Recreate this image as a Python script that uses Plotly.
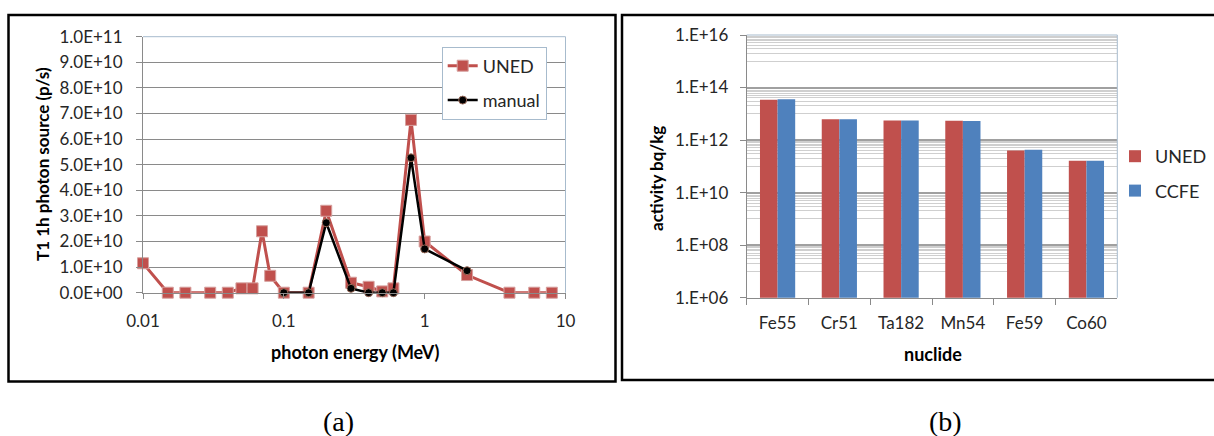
import plotly.graph_objects as go

W, H = 1214, 436

# ---- panel (a): T1 1h photon source spectrum ----
energy_uned = [0.01, 0.015, 0.02, 0.03, 0.04, 0.05, 0.06, 0.07, 0.08, 0.1, 0.15,
               0.2, 0.3, 0.4, 0.5, 0.6, 0.8, 1.0, 2.0, 4.0, 6.0, 8.0]
source_uned = [1.15e10, 0, 0, 0, 0, 1.7e9, 1.7e9, 2.4e10, 6.6e9, 0, 0,
               3.2e10, 3.9e9, 2.3e9, 5e8, 1.7e9, 6.75e10, 2.0e10, 6.9e9, 0, 0, 0]
energy_manual = [0.1, 0.15, 0.2, 0.3, 0.4, 0.5, 0.6, 0.8, 1.0, 2.0]
source_manual = [0, 0, 2.73e10, 1.7e9, 0, 0, 0, 5.27e10, 1.71e10, 8.6e9]

energy_ticks = [0.01, 0.1, 1, 10]
energy_ticktext = ["0.01", "0.1", "1", "10"]
source_ticks = [i * 1e10 for i in range(11)]
source_ticktext = ["0.0E+00", "1.0E+10", "2.0E+10", "3.0E+10", "4.0E+10", "5.0E+10",
                   "6.0E+10", "7.0E+10", "8.0E+10", "9.0E+10", "1.0E+11"]

# ---- panel (b): nuclide activity ----
nuclides = ["Fe55", "Cr51", "Ta182", "Mn54", "Fe59", "Co60"]
activity_uned = [3.4e13, 6.2e12, 5.6e12, 5.4e12, 4.0e11, 1.65e11]
activity_ccfe = [3.6e13, 6.2e12, 5.6e12, 5.3e12, 4.3e11, 1.65e11]

activity_ticks = [1e6, 1e8, 1e10, 1e12, 1e14, 1e16]
activity_ticktext = ["1.E+06", "1.E+08", "1.E+10", "1.E+12", "1.E+14", "1.E+16"]
activity_minor = [m * b for b in activity_ticks[:-1] for m in range(10, 100, 10)]

RED = "#c0504d"
BLUE = "#4f81bd"
FONT = "Lato"
TXT = "#262626"
GRID = "#8a8a8a"
FRAME = "#a7bbcd"


def px(x):
    return x / W


def py(y):
    return 1 - y / H


fig = go.Figure()

fig.add_trace(go.Scatter(
    x=energy_uned, y=source_uned, name="UNED", mode="lines+markers",
    line=dict(color=RED, width=3),
    marker=dict(symbol="square", size=11, color=RED, line=dict(color="#d6a09e", width=1)),
    cliponaxis=False, legendgroup="u", xaxis="x", yaxis="y", legend="legend",
))
fig.add_trace(go.Scatter(
    x=energy_manual, y=source_manual, name="manual", mode="lines+markers",
    line=dict(color="black", width=2.5),
    marker=dict(symbol="circle", size=8, color="black", line=dict(color="#9a6b5a", width=1)),
    cliponaxis=False, legendgroup="m", xaxis="x", yaxis="y", legend="legend",
))

fig.add_trace(go.Bar(
    x=nuclides, y=activity_uned, name="UNED", marker=dict(color=RED, line=dict(width=0)),
    legendgroup="bu", xaxis="x2", yaxis="y2", legend="legend2",
))
fig.add_trace(go.Bar(
    x=nuclides, y=activity_ccfe, name="CCFE", marker=dict(color=BLUE, line=dict(width=0)),
    legendgroup="bc", xaxis="x2", yaxis="y2", legend="legend2",
))

axis_font = dict(family=FONT, size=17, color=TXT)

fig.update_layout(
    width=W, height=H,
    margin=dict(l=0, r=0, t=0, b=0, autoexpand=False),
    paper_bgcolor="white", plot_bgcolor="white",
    font=axis_font,
    barmode="group", bargap=0.43, bargroupgap=0,
    xaxis=dict(
        type="log", range=[-2, 1], domain=[px(143), px(565.5)],
        tickvals=energy_ticks, ticktext=energy_ticktext,
        ticks="outside", ticklen=5, tickcolor=GRID,
        showline=True, linecolor=GRID, linewidth=1,
        showgrid=False, zeroline=False, ticklabelstandoff=8,
        tickfont=axis_font, anchor="y", automargin=False,
    ),
    yaxis=dict(
        range=[0, 1e11], domain=[py(292.7), py(36.7)],
        tickvals=source_ticks, ticktext=source_ticktext,
        ticks="outside", ticklen=6, tickcolor=GRID,
        showline=True, linecolor=GRID, linewidth=1,
        showgrid=True, gridcolor=GRID, gridwidth=1, zeroline=False,
        ticklabelstandoff=10, tickfont=axis_font, anchor="x", automargin=False,
    ),
    xaxis2=dict(
        type="category", domain=[px(746.7), px(1117.3)],
        ticks="outside", ticklen=6, tickcolor=GRID, tickson="boundaries",
        showline=True, linecolor=GRID, linewidth=1,
        showgrid=False, ticklabelstandoff=10, tickfont=axis_font, anchor="y2",
        automargin=False,
    ),
    yaxis2=dict(
        type="log", range=[6, 16], domain=[py(297.7), py(35)],
        tickvals=activity_ticks, ticktext=activity_ticktext,
        ticks="outside", ticklen=6, tickcolor=GRID,
        showline=True, linecolor=GRID, linewidth=1,
        showgrid=True, gridcolor="#a0a0a0", gridwidth=2,
        minor=dict(tickvals=activity_minor, showgrid=True, gridcolor="#cfcfcf",
                   gridwidth=1, ticks=""),
        ticklabelstandoff=8, tickfont=axis_font, anchor="x2", automargin=False,
    ),
    legend=dict(
        x=px(441.7), y=py(46.5), xanchor="left", yanchor="top",
        bordercolor=FRAME, borderwidth=1, bgcolor="white",
        font=dict(family=FONT, size=18, color=TXT),
        tracegroupgap=8, itemwidth=30,
    ),
    legend2=dict(
        x=px(1212), y=py(138), xanchor="right", yanchor="top",
        borderwidth=0, bgcolor="rgba(0,0,0,0)",
        font=dict(family=FONT, size=18, color=TXT),
        tracegroupgap=8, itemwidth=30,
    ),
)

shapes = []
# plot-area frame (top and right edges)
for xr, yr in (("x domain", "y domain"), ("x2 domain", "y2 domain")):
    shapes.append(dict(type="line", xref=xr, yref=yr, x0=0, x1=1, y0=1, y1=1,
                       line=dict(color=FRAME, width=1)))
    shapes.append(dict(type="line", xref=xr, yref=yr, x0=1, x1=1, y0=0, y1=1,
                       line=dict(color=FRAME, width=1)))
# panel borders
shapes.append(dict(type="rect", xref="paper", yref="paper",
                   x0=px(8.5), x1=px(615.5), y0=py(381.5), y1=py(15),
                   line=dict(color="black", width=2.5)))
shapes.append(dict(type="rect", xref="paper", yref="paper",
                   x0=px(622), x1=px(1222), y0=py(380), y1=py(15),
                   line=dict(color="black", width=2.5)))
fig.update_layout(shapes=shapes)

title_font = dict(family=FONT, size=17, color="black", weight="bold")
annotations = [
    dict(text="T1 1h photon source (p/s)", x=px(43), y=py(164), textangle=-90,
         font=title_font),
    dict(text="photon energy (MeV)", x=px(355), y=py(352),
         font=dict(title_font, size=18)),
    dict(text="activity bq/kg", x=px(656), y=py(179), textangle=-90, font=title_font),
    dict(text="nuclide", x=px(933), y=py(354), font=dict(title_font, size=18)),
    dict(text="(a)", x=px(338), y=py(421),
         font=dict(family="Liberation Serif", size=28, color="black")),
    dict(text="(b)", x=px(945), y=py(421),
         font=dict(family="Liberation Serif", size=28, color="black")),
]
for a in annotations:
    a.update(xref="paper", yref="paper", showarrow=False, xanchor="center", yanchor="middle")
fig.update_layout(annotations=annotations)

fig.write_html("out.html")
